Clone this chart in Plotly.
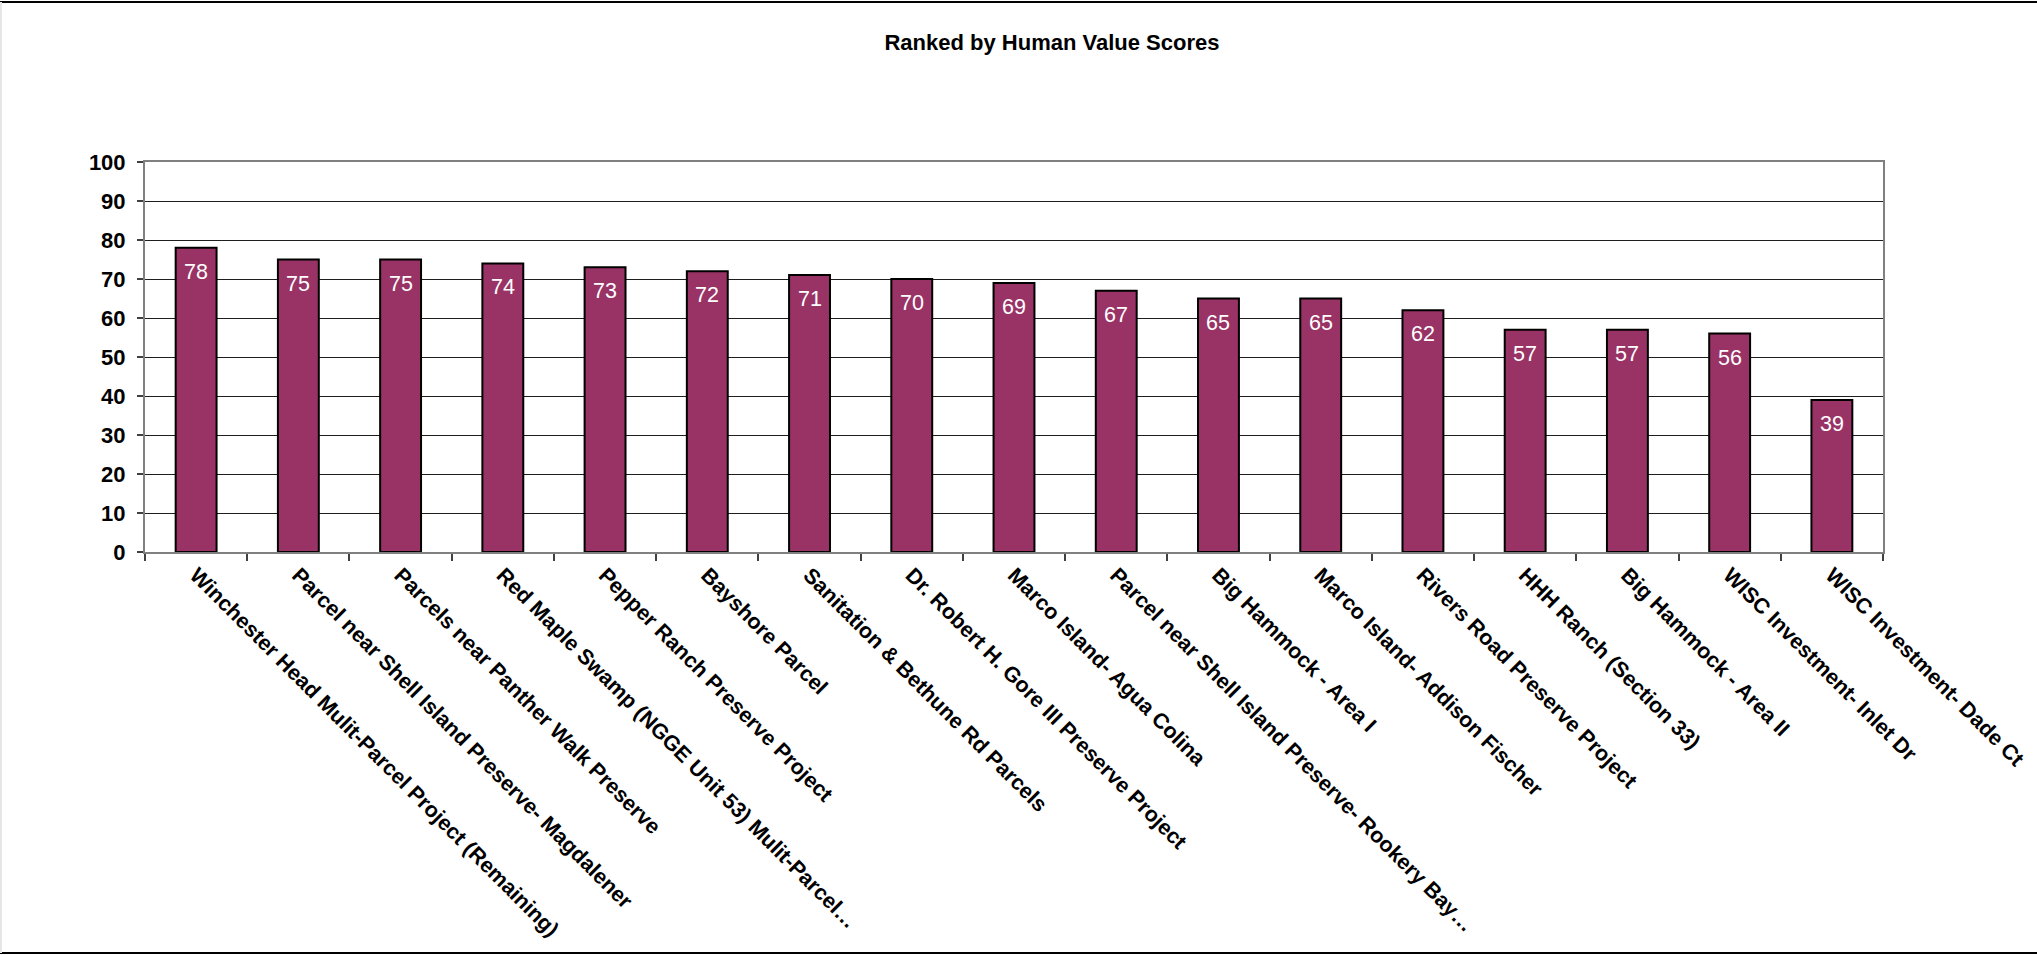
import plotly.graph_objects as go

title = "Ranked by Human Value Scores"
categories = [
    "Winchester Head Mulit-Parcel Project (Remaining)",
    "Parcel near Shell Island Preserve- Magdalener",
    "Parcels near Panther Walk Preserve",
    "Red Maple Swamp (NGGE Unit 53) Mulit-Parcel…",
    "Pepper Ranch Preserve Project",
    "Bayshore Parcel",
    "Sanitation & Bethune Rd Parcels",
    "Dr. Robert H. Gore III Preserve Project",
    "Marco Island- Agua Colina",
    "Parcel near Shell Island Preserve- Rookery Bay…",
    "Big Hammock - Area I",
    "Marco Island- Addison Fischer",
    "Rivers Road Preserve Project",
    "HHH Ranch (Section 33)",
    "Big Hammock - Area II",
    "WISC Investment- Inlet Dr",
    "WISC Investment- Dade Ct",
]
scores = [78, 75, 75, 74, 73, 72, 71, 70, 69, 67, 65, 65, 62, 57, 57, 56, 39]
y_ticks = [0, 10, 20, 30, 40, 50, 60, 70, 80, 90, 100]

FONT = "Arial, Liberation Sans, sans-serif"
W, H = 2037, 955
ML, MR, MT, MB = 145, 154, 162, 403
PW, PH = W - ML - MR, H - MT - MB

fig = go.Figure()
fig.add_trace(go.Bar(
    x=categories, y=scores,
    marker=dict(color="#993366", line=dict(color="#000000", width=2)),
    width=0.40,
    hoverinfo="x+y",
))

for c, v in zip(categories, scores):
    fig.add_annotation(
        x=c, y=v, text=str(v), showarrow=False,
        yanchor="top", yshift=-10, xanchor="center",
        font=dict(family=FONT, size=21.5, color="#ffffff"),
    )

# chart frame (top and bottom lines, faint left edge)
fig.add_shape(type="line", xref="paper", yref="paper",
              x0=-ML / PW, x1=(PW + MR) / PW,
              y0=(PH + MT - 2) / PH, y1=(PH + MT - 2) / PH,
              line=dict(color="#000000", width=2))
fig.add_shape(type="line", xref="paper", yref="paper",
              x0=-ML / PW, x1=(PW + MR) / PW,
              y0=-(MB - 2) / PH, y1=-(MB - 2) / PH,
              line=dict(color="#000000", width=2))
fig.add_shape(type="line", xref="paper", yref="paper",
              x0=-(ML - 1) / PW, x1=-(ML - 1) / PW,
              y0=-(MB - 2) / PH, y1=(PH + MT - 2) / PH,
              line=dict(color="#e6e6e6", width=2))

fig.update_layout(
    width=W, height=H,
    margin=dict(l=ML, r=MR, t=MT, b=MB, autoexpand=False),
    paper_bgcolor="#ffffff", plot_bgcolor="#ffffff",
    showlegend=False,
    title=dict(text="<b>" + title + "</b>", x=1052 / W, xanchor="center",
               y=1 - 42 / H, yanchor="middle",
               font=dict(family=FONT, size=22, color="#000000")),
    font=dict(family=FONT, color="#000000"),
)
fig.update_xaxes(
    type="category",
    tickangle=45,
    tickfont=dict(family=FONT, size=21.5, color="#000000", weight="bold"),
    showline=True, linecolor="#808080", linewidth=2, mirror=True,
    ticks="outside", tickson="boundaries", ticklen=7, tickcolor="#404040", tickwidth=1.5,
    showgrid=False, automargin=False,
)
fig.update_yaxes(
    range=[0, 100],
    tickvals=y_ticks,
    tickfont=dict(family=FONT, size=22, color="#000000", weight="bold"),
    showline=True, linecolor="#808080", linewidth=2, mirror=True,
    ticks="outside", ticklen=6, tickcolor="#404040", tickwidth=1.5,
    ticklabelstandoff=7,
    showgrid=True, gridcolor="#1e1e1e", gridwidth=1.2,
    zeroline=False, automargin=False,
)

fig.write_html("out.html", config={"displayModeBar": False},
               post_script="document.body.style.margin='0';")
